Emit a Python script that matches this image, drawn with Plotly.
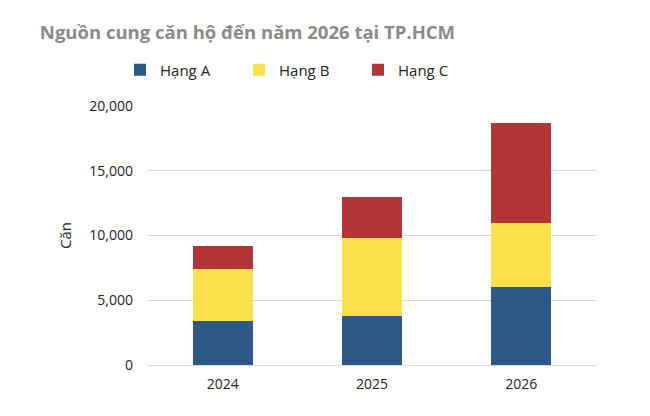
import plotly.graph_objects as go

years = ["2024", "2025", "2026"]
hang_a = [3400, 3750, 6000]
hang_b = [4000, 6050, 5000]
hang_c = [1800, 3150, 7700]
series_names = ["Hạng A", "Hạng B", "Hạng C"]
colors = ["#2D5986", "#FAE04A", "#B43535"]
tick_vals = [0, 5000, 10000, 15000, 20000]
tick_text = ["0", "5,000", "10,000", "15,000", "20,000"]

fig = go.Figure()
for name, vals, col in zip(series_names, [hang_a, hang_b, hang_c], colors):
    fig.add_trace(go.Bar(x=years, y=vals, name=name, marker=dict(color=col, line=dict(width=0)), width=0.4))

fig.update_layout(
    width=650, height=416,
    barmode="stack",
    plot_bgcolor="white", paper_bgcolor="white",
    margin=dict(l=140, r=62, t=98, b=59, autoexpand=False),
    font=dict(family="Open Sans, Roboto, sans-serif", color="#222222", size=14),
    title=dict(text="<b>Nguồn cung căn hộ đến năm 2026 tại TP.HCM</b>", x=0.049, xanchor="left",
               y=0.942, yanchor="middle", font=dict(size=18.5, color="#8a8a8a")),
    legend=dict(orientation="h", x=-0.0625, xanchor="left", y=1.139, yanchor="middle",
                font=dict(size=15, color="#222222"), itemwidth=30, traceorder="normal",
                entrywidth=74, entrywidthmode="pixels"),
    showlegend=True,
)
fig.update_xaxes(showgrid=False, showline=True, linecolor="#d9d9d9", linewidth=1,
                 tickfont=dict(size=14), ticks="", ticklabelstandoff=6)
fig.update_yaxes(range=[0, 20000], tickvals=tick_vals, ticktext=tick_text, showgrid=True,
                 gridcolor="#d9d9d9", gridwidth=1, zeroline=False, tickfont=dict(size=14),
                 title=dict(text="Căn", font=dict(size=15), standoff=14), ticks="",
                 ticklabelstandoff=14)

fig.write_html("out.html")
